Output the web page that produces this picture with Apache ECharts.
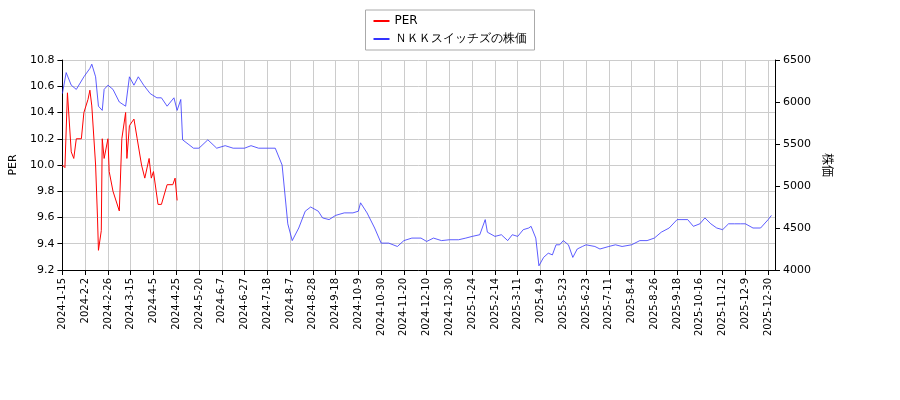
<!DOCTYPE html>
<html><head><meta charset="utf-8">
<script src="https://cdn.jsdelivr.net/npm/echarts@6/dist/echarts.min.js"></script>
<style>body{margin:0}#c{width:900px;height:400px}</style></head>
<body><div id="c"></div>
<script>
const tickLabels = ['2024-1-15','2024-2-2','2024-2-26','2024-3-15','2024-4-5','2024-4-25','2024-5-20','2024-6-7','2024-6-27','2024-7-18','2024-8-7','2024-8-28','2024-9-18','2024-10-9','2024-10-30','2024-11-20','2024-12-10','2024-12-30','2025-1-24','2025-2-14','2025-3-11','2025-4-9','2025-5-23','2025-6-23','2025-7-11','2025-8-4','2025-8-26','2025-9-18','2025-10-16','2025-11-12','2025-12-9','2025-12-30'];
const perData = [['2024-1-15',10.0],['2024-1-17',9.98],['2024-1-19',10.55],['2024-1-22',10.1],['2024-1-24',10.05],['2024-1-26',10.2],['2024-1-30',10.2],['2024-2-1',10.4],['2024-2-5',10.5],['2024-2-7',10.57],['2024-2-9',10.45],['2024-2-13',10.0],['2024-2-15',9.6],['2024-2-16',9.35],['2024-2-19',9.5],['2024-2-20',10.2],['2024-2-22',10.05],['2024-2-26',10.2],['2024-2-27',9.95],['2024-3-1',9.8],['2024-3-6',9.65],['2024-3-8',10.2],['2024-3-11',10.4],['2024-3-12',10.05],['2024-3-14',10.3],['2024-3-18',10.35],['2024-3-21',10.2],['2024-3-25',10.0],['2024-3-28',9.9],['2024-4-1',10.05],['2024-4-3',9.9],['2024-4-5',9.95],['2024-4-9',9.7],['2024-4-12',9.7],['2024-4-17',9.85],['2024-4-22',9.85],['2024-4-24',9.9],['2024-4-26',9.73]];
const priceData = [['2024-1-15',6100],['2024-1-18',6350],['2024-1-22',6200],['2024-1-26',6150],['2024-2-1',6300],['2024-2-7',6400],['2024-2-9',6450],['2024-2-13',6300],['2024-2-16',5950],['2024-2-20',5900],['2024-2-22',6150],['2024-2-26',6200],['2024-3-1',6150],['2024-3-6',6000],['2024-3-11',5950],['2024-3-14',6300],['2024-3-18',6200],['2024-3-22',6300],['2024-3-27',6200],['2024-4-2',6100],['2024-4-8',6050],['2024-4-12',6050],['2024-4-17',5950],['2024-4-23',6050],['2024-4-26',5900],['2024-4-30',6030],['2024-5-2',5550],['2024-5-8',5500],['2024-5-14',5450],['2024-5-20',5450],['2024-5-27',5550],['2024-6-3',5450],['2024-6-10',5480],['2024-6-17',5450],['2024-6-27',5450],['2024-7-3',5480],['2024-7-10',5450],['2024-7-18',5450],['2024-7-25',5450],['2024-7-31',5250],['2024-8-5',4550],['2024-8-9',4350],['2024-8-15',4500],['2024-8-21',4700],['2024-8-26',4750],['2024-9-2',4700],['2024-9-6',4620],['2024-9-12',4600],['2024-9-18',4650],['2024-9-26',4680],['2024-10-4',4680],['2024-10-9',4700],['2024-10-11',4800],['2024-10-17',4680],['2024-10-24',4500],['2024-10-30',4320],['2024-11-6',4320],['2024-11-14',4280],['2024-11-20',4350],['2024-11-27',4380],['2024-12-5',4380],['2024-12-10',4340],['2024-12-16',4380],['2024-12-23',4350],['2024-12-30',4360],['2025-1-9',4360],['2025-1-17',4380],['2025-1-24',4400],['2025-1-31',4420],['2025-2-5',4600],['2025-2-7',4450],['2025-2-14',4400],['2025-2-21',4420],['2025-2-28',4350],['2025-3-5',4420],['2025-3-11',4400],['2025-3-18',4480],['2025-3-25',4500],['2025-3-28',4520],['2025-4-3',4380],['2025-4-7',4050],['2025-4-9',4050],['2025-4-15',4150],['2025-4-24',4200],['2025-5-2',4180],['2025-5-9',4300],['2025-5-16',4300],['2025-5-23',4350],['2025-5-30',4300],['2025-6-5',4150],['2025-6-11',4250],['2025-6-18',4280],['2025-6-23',4300],['2025-6-30',4280],['2025-7-4',4250],['2025-7-11',4280],['2025-7-18',4300],['2025-7-25',4280],['2025-8-4',4300],['2025-8-12',4350],['2025-8-19',4350],['2025-8-26',4380],['2025-9-2',4450],['2025-9-10',4500],['2025-9-18',4600],['2025-9-24',4600],['2025-10-1',4600],['2025-10-8',4520],['2025-10-16',4550],['2025-10-22',4620],['2025-10-29',4550],['2025-11-5',4500],['2025-11-12',4480],['2025-11-19',4550],['2025-11-26',4550],['2025-12-3',4550],['2025-12-9',4550],['2025-12-16',4500],['2025-12-23',4500],['2025-12-30',4600],['2026-1-2',4650]];

// tick labels are evenly spaced (trading-day axis): place each date between its neighbouring ticks
const t = s => { const [y, m, d] = s.split('-').map(Number); return Date.UTC(y, m - 1, d); };
const tickT = tickLabels.map(t);
function pos(s) {
  const v = t(s);
  let i = 0;
  while (i < tickT.length - 2 && v > tickT[i + 1]) i++;
  return i + (v - tickT[i]) / (tickT[i + 1] - tickT[i]);
}
const font = 'DejaVu Sans';
const chart = echarts.init(document.getElementById('c'));
chart.setOption({
  animation: false,
  textStyle: {fontFamily: font},
  grid: {left: 60, right: 125, top: 60, bottom: 130},
  legend: {
    top: 10, left: 'center', orient: 'vertical', itemWidth: 16, itemHeight: 2,
    borderColor: '#aaa', borderWidth: 1, padding: [5, 8], itemGap: 6,
    textStyle: {fontSize: 12, color: '#000', fontFamily: font},
    data: [{name: 'PER', icon: 'rect'}, {name: 'ＮＫＫスイッチズの株価', icon: 'rect'}]
  },
  xAxis: {
    type: 'value', min: 0, max: 31.3, interval: 1,
    axisLine: {lineStyle: {color: '#000'}},
    axisTick: {lineStyle: {color: '#000'}},
    axisLabel: {rotate: 90, fontSize: 10, color: '#000', showMaxLabel: false, formatter: v => tickLabels[v] || ''},
    splitLine: {show: true, lineStyle: {color: '#ccc'}}
  },
  yAxis: [{
    type: 'value', min: 9.2, max: 10.8, interval: 0.2, name: 'PER',
    nameLocation: 'middle', nameGap: 38, nameTextStyle: {color: '#000', fontSize: 11},
    axisLine: {show: true, lineStyle: {color: '#000'}}, axisTick: {show: true},
    axisLabel: {color: '#000', fontSize: 11, formatter: v => v.toFixed(1)},
    splitLine: {lineStyle: {color: '#ccc'}}
  }, {
    type: 'value', min: 4000, max: 6500, interval: 500, name: '株価',
    nameLocation: 'middle', nameGap: 45, nameRotate: -90,
    nameTextStyle: {color: '#000', fontSize: 12, fontFamily: 'Noto Sans CJK JP'},
    axisLine: {show: true, lineStyle: {color: '#000'}}, axisTick: {show: true},
    axisLabel: {color: '#000', fontSize: 11, formatter: v => String(v)}, splitLine: {show: false}
  }],
  series: [{
    name: 'PER', type: 'line', data: perData.map(p => [pos(p[0]), p[1]]), yAxisIndex: 0, showSymbol: false,
    lineStyle: {color: '#ff0000', width: 1}, itemStyle: {color: '#ff0000'}
  }, {
    name: 'ＮＫＫスイッチズの株価', type: 'line', data: priceData.map(p => [pos(p[0]), p[1]]), yAxisIndex: 1, showSymbol: false,
    lineStyle: {color: '#3333ff', width: 0.8}, itemStyle: {color: '#3333ff'}
  }]
});
</script></body></html>
